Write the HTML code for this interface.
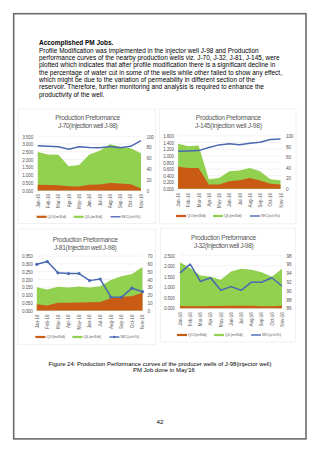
<!DOCTYPE html>
<html><head><meta charset="utf-8">
<style>
html,body{margin:0;padding:0;background:#fff;}
body{width:320px;height:453px;position:relative;overflow:hidden;font-family:"Liberation Sans", sans-serif;}
#pg{position:absolute;left:13px;top:13px;width:290px;height:423px;border:2px solid #707070;}
#txt{position:absolute;left:39px;top:39.4px;font-size:6.48px;line-height:7.35px;color:#000;white-space:nowrap;}
#txt b{font-weight:bold;}
svg{position:absolute;left:0;top:0;}
.ax{font-size:4.7px;letter-spacing:-0.2px;fill:#595959;font-family:"Liberation Sans", sans-serif;}
.tt{font-size:6.7px;letter-spacing:-0.33px;fill:#595959;font-family:"Liberation Sans", sans-serif;}
.tt2{letter-spacing:-0.45px;}
.xl{font-size:4.45px;fill:#595959;font-family:"Liberation Sans", sans-serif;}
.lg{font-size:4.2px;fill:#595959;font-family:"Liberation Sans", sans-serif;}
#cap{position:absolute;left:0;width:320px;top:360.7px;text-align:center;font-size:5.95px;line-height:6.6px;color:#000;}
#pn{position:absolute;left:0;width:320px;top:418px;text-align:center;font-size:6.2px;line-height:7px;color:#000;}
</style></head><body>
<div id="txt"><div class="ln"><b>Accomplished PM Jobs.</b></div>
<div class="ln">Profile Modification was implemented in the injector well J-98 and Production</div>
<div class="ln">performance curves of the nearby production wells viz. J-70, J-32, J-81, J-145, were</div>
<div class="ln">plotted which indicates that after profile modification there is a significant decline in</div>
<div class="ln">the percentage of water cut in some of the wells while other failed to show any effect,</div>
<div class="ln">which might be due to the variation of permeability in different section of the</div>
<div class="ln">reservoir. Therefore, further monitoring and analysis is required to enhance the</div>
<div class="ln">productivity of the well.</div>
</div>
<svg width="320" height="453" viewBox="0 0 320 453">
<rect x="13.7" y="13.7" width="292.3" height="425.2" fill="none" stroke="#6b6b6b" stroke-width="1.6"/>
<rect x="18.5" y="109" width="137.0" height="114.5" fill="#fff" stroke="#eeeeee" stroke-width="0.8"/>
<line x1="37.75" y1="136.3" x2="141" y2="136.3" stroke="#ebebeb" stroke-width="0.6"/>
<line x1="37.75" y1="144.03" x2="141" y2="144.03" stroke="#ebebeb" stroke-width="0.6"/>
<line x1="37.75" y1="151.76" x2="141" y2="151.76" stroke="#ebebeb" stroke-width="0.6"/>
<line x1="37.75" y1="159.49" x2="141" y2="159.49" stroke="#ebebeb" stroke-width="0.6"/>
<line x1="37.75" y1="167.21" x2="141" y2="167.21" stroke="#ebebeb" stroke-width="0.6"/>
<line x1="37.75" y1="174.94" x2="141" y2="174.94" stroke="#ebebeb" stroke-width="0.6"/>
<line x1="37.75" y1="182.67" x2="141" y2="182.67" stroke="#ebebeb" stroke-width="0.6"/>
<line x1="37.75" y1="190.4" x2="141" y2="190.4" stroke="#ebebeb" stroke-width="0.6"/>
<polygon points="37.75,190.4 37.75,152.07 48.08,154.54 58.4,154.85 68.72,166.29 79.05,165.05 89.38,154.38 99.7,150.68 110.03,144.34 120.35,146.66 130.68,148.2 141,153.3 141,190.4" fill="#92d050"/>
<polygon points="37.75,190.4 37.75,184.84 48.08,184.99 58.4,185.3 68.72,186.23 79.05,186.54 89.38,184.68 99.7,184.53 110.03,182.98 120.35,183.44 130.68,184.22 141,188.39 141,190.4" fill="#c95b14"/>
<polyline points="37.75,145.77 48.08,146.31 58.4,146.85 68.72,149.28 79.05,146.85 89.38,147.39 99.7,147.66 110.03,146.58 120.35,147.66 130.68,146.31 141,140.63" fill="none" stroke="#4a69b0" stroke-width="1.5" stroke-linejoin="round"/>
<text x="33.1" y="138.5" text-anchor="end" class="ax">3.500</text>
<text x="33.1" y="146.23" text-anchor="end" class="ax">3.000</text>
<text x="33.1" y="153.96" text-anchor="end" class="ax">2.500</text>
<text x="33.1" y="161.69" text-anchor="end" class="ax">2.000</text>
<text x="33.1" y="169.41" text-anchor="end" class="ax">1.500</text>
<text x="33.1" y="177.14" text-anchor="end" class="ax">1.000</text>
<text x="33.1" y="184.87" text-anchor="end" class="ax">0.500</text>
<text x="33.1" y="192.6" text-anchor="end" class="ax">0.000</text>
<text x="146.5" y="138.5" class="ax">100</text>
<text x="146.5" y="149.32" class="ax">80</text>
<text x="146.5" y="160.14" class="ax">60</text>
<text x="146.5" y="170.96" class="ax">40</text>
<text x="146.5" y="181.78" class="ax">20</text>
<text x="146.5" y="192.6" class="ax">0</text>
<text transform="translate(39.55,194) rotate(-90)" text-anchor="end" class="xl">Jan-16</text>
<text transform="translate(49.88,194) rotate(-90)" text-anchor="end" class="xl">Feb-16</text>
<text transform="translate(60.2,194) rotate(-90)" text-anchor="end" class="xl">Mar-16</text>
<text transform="translate(70.52,194) rotate(-90)" text-anchor="end" class="xl">Apr-16</text>
<text transform="translate(80.85,194) rotate(-90)" text-anchor="end" class="xl">May-16</text>
<text transform="translate(91.17,194) rotate(-90)" text-anchor="end" class="xl">Jun-16</text>
<text transform="translate(101.5,194) rotate(-90)" text-anchor="end" class="xl">Jul-16</text>
<text transform="translate(111.83,194) rotate(-90)" text-anchor="end" class="xl">Aug-16</text>
<text transform="translate(122.15,194) rotate(-90)" text-anchor="end" class="xl">Sep-16</text>
<text transform="translate(132.48,194) rotate(-90)" text-anchor="end" class="xl">Oct-16</text>
<text transform="translate(142.8,194) rotate(-90)" text-anchor="end" class="xl">Nov-16</text>
<text x="87.6" y="119.5" text-anchor="middle" class="tt">Production Preformance</text>
<text x="87.6" y="128.2" text-anchor="middle" class="tt" style="letter-spacing:-0.45px">J-70(Injection well J-98)</text>
<line x1="36.6" y1="216.8" x2="46.6" y2="216.8" stroke="#c95b14" stroke-width="2.2"/>
<text x="47.6" y="218.2" class="lg">QO(m3/d)</text>
<line x1="73.6" y1="216.8" x2="83.6" y2="216.8" stroke="#92d050" stroke-width="2.2"/>
<text x="84.6" y="218.2" class="lg">QL(m3/d)</text>
<line x1="110.6" y1="216.8" x2="120.6" y2="216.8" stroke="#4a69b0" stroke-width="1.4"/>
<text x="121.6" y="218.2" class="lg">WC(v/v%)</text>
<rect x="159.5" y="108.8" width="136.5" height="115.00000000000001" fill="#fff" stroke="#eeeeee" stroke-width="0.8"/>
<line x1="178.1" y1="135.9" x2="280.5" y2="135.9" stroke="#ebebeb" stroke-width="0.6"/>
<line x1="178.1" y1="142.51" x2="280.5" y2="142.51" stroke="#ebebeb" stroke-width="0.6"/>
<line x1="178.1" y1="149.12" x2="280.5" y2="149.12" stroke="#ebebeb" stroke-width="0.6"/>
<line x1="178.1" y1="155.74" x2="280.5" y2="155.74" stroke="#ebebeb" stroke-width="0.6"/>
<line x1="178.1" y1="162.35" x2="280.5" y2="162.35" stroke="#ebebeb" stroke-width="0.6"/>
<line x1="178.1" y1="168.96" x2="280.5" y2="168.96" stroke="#ebebeb" stroke-width="0.6"/>
<line x1="178.1" y1="175.58" x2="280.5" y2="175.58" stroke="#ebebeb" stroke-width="0.6"/>
<line x1="178.1" y1="182.19" x2="280.5" y2="182.19" stroke="#ebebeb" stroke-width="0.6"/>
<line x1="178.1" y1="188.8" x2="280.5" y2="188.8" stroke="#ebebeb" stroke-width="0.6"/>
<polygon points="178.1,188.8 178.1,143.84 188.34,146.15 198.58,145.49 208.82,179.21 219.06,177.89 229.3,171.28 239.54,170.62 249.78,167.97 260.02,171.28 270.26,179.21 280.5,180.2 280.5,188.8" fill="#92d050"/>
<polygon points="178.1,188.8 178.1,166.65 188.34,167.97 198.58,167.97 208.82,184.5 219.06,184.5 229.3,181.2 239.54,180.2 249.78,177.89 260.02,180.53 270.26,183.84 280.5,184.5 280.5,188.8" fill="#c95b14"/>
<polyline points="178.1,151.19 188.34,150.92 198.58,150.61 208.82,147.54 219.06,144.89 229.3,143.84 239.54,144.68 249.78,143.2 260.02,142.3 270.26,139.6 280.5,138.92" fill="none" stroke="#4a69b0" stroke-width="1.5" stroke-linejoin="round"/>
<text x="173.9" y="138.1" text-anchor="end" class="ax">1.600</text>
<text x="173.9" y="144.71" text-anchor="end" class="ax">1.400</text>
<text x="173.9" y="151.32" text-anchor="end" class="ax">1.200</text>
<text x="173.9" y="157.94" text-anchor="end" class="ax">1.000</text>
<text x="173.9" y="164.55" text-anchor="end" class="ax">0.800</text>
<text x="173.9" y="171.16" text-anchor="end" class="ax">0.600</text>
<text x="173.9" y="177.78" text-anchor="end" class="ax">0.400</text>
<text x="173.9" y="184.39" text-anchor="end" class="ax">0.200</text>
<text x="173.9" y="191" text-anchor="end" class="ax">0.000</text>
<text x="286" y="138.1" class="ax">100</text>
<text x="286" y="148.68" class="ax">80</text>
<text x="286" y="159.26" class="ax">60</text>
<text x="286" y="169.84" class="ax">40</text>
<text x="286" y="180.42" class="ax">20</text>
<text x="286" y="191" class="ax">0</text>
<text transform="translate(180.2,193.1) rotate(-90)" text-anchor="end" class="xl">Jan-16</text>
<text transform="translate(190.44,193.1) rotate(-90)" text-anchor="end" class="xl">Feb-16</text>
<text transform="translate(200.68,193.1) rotate(-90)" text-anchor="end" class="xl">Mar-16</text>
<text transform="translate(210.92,193.1) rotate(-90)" text-anchor="end" class="xl">Apr-16</text>
<text transform="translate(221.16,193.1) rotate(-90)" text-anchor="end" class="xl">May-16</text>
<text transform="translate(231.4,193.1) rotate(-90)" text-anchor="end" class="xl">Jun-16</text>
<text transform="translate(241.64,193.1) rotate(-90)" text-anchor="end" class="xl">Jul-16</text>
<text transform="translate(251.88,193.1) rotate(-90)" text-anchor="end" class="xl">Aug-16</text>
<text transform="translate(262.12,193.1) rotate(-90)" text-anchor="end" class="xl">Sep-16</text>
<text transform="translate(272.36,193.1) rotate(-90)" text-anchor="end" class="xl">Oct-16</text>
<text transform="translate(282.6,193.1) rotate(-90)" text-anchor="end" class="xl">Nov-16</text>
<text x="228.3" y="120.3" text-anchor="middle" class="tt">Production Preformance</text>
<text x="228.3" y="127.9" text-anchor="middle" class="tt" style="letter-spacing:-0.3px">J-145(Injection well J-98)</text>
<line x1="176" y1="216" x2="186" y2="216" stroke="#c95b14" stroke-width="2.2"/>
<text x="187" y="217.4" class="lg">QO(m3/d)</text>
<line x1="213" y1="216" x2="223" y2="216" stroke="#92d050" stroke-width="2.2"/>
<text x="224" y="217.4" class="lg">QL(m3/d)</text>
<line x1="250" y1="216" x2="260" y2="216" stroke="#4a69b0" stroke-width="1.4"/>
<text x="261" y="217.4" class="lg">WC(v/v%)</text>
<rect x="18" y="229" width="137.5" height="115.30000000000001" fill="#fff" stroke="#eeeeee" stroke-width="0.8"/>
<line x1="36.8" y1="256.1" x2="142.5" y2="256.1" stroke="#ebebeb" stroke-width="0.6"/>
<line x1="36.8" y1="263.89" x2="142.5" y2="263.89" stroke="#ebebeb" stroke-width="0.6"/>
<line x1="36.8" y1="271.67" x2="142.5" y2="271.67" stroke="#ebebeb" stroke-width="0.6"/>
<line x1="36.8" y1="279.46" x2="142.5" y2="279.46" stroke="#ebebeb" stroke-width="0.6"/>
<line x1="36.8" y1="287.24" x2="142.5" y2="287.24" stroke="#ebebeb" stroke-width="0.6"/>
<line x1="36.8" y1="295.03" x2="142.5" y2="295.03" stroke="#ebebeb" stroke-width="0.6"/>
<line x1="36.8" y1="302.81" x2="142.5" y2="302.81" stroke="#ebebeb" stroke-width="0.6"/>
<line x1="36.8" y1="310.6" x2="142.5" y2="310.6" stroke="#ebebeb" stroke-width="0.6"/>
<polygon points="36.8,310.6 36.8,287.24 47.37,289.58 57.94,286.78 68.51,287.4 79.08,286.46 89.65,287.4 100.22,286.15 110.79,279.92 121.36,276.34 131.93,274.01 142.5,267 142.5,310.6" fill="#92d050"/>
<polygon points="36.8,310.6 36.8,304.37 47.37,305.62 57.94,302.81 68.51,302.81 79.08,302.5 89.65,302.19 100.22,301.88 110.79,298.14 121.36,296.74 131.93,296.27 142.5,292.85 142.5,310.6" fill="#c95b14"/>
<polyline points="36.8,264.28 47.37,261.55 57.94,272.84 68.51,273.62 79.08,273.62 89.65,280.62 100.22,279.07 110.79,296.98 121.36,297.36 131.93,288.18 142.5,291.68" fill="none" stroke="#4a69b0" stroke-width="1.5" stroke-linejoin="round"/>
<circle cx="36.8" cy="264.28" r="1.6" fill="#4a69b0"/>
<circle cx="47.37" cy="261.55" r="1.6" fill="#4a69b0"/>
<circle cx="57.94" cy="272.84" r="1.6" fill="#4a69b0"/>
<circle cx="68.51" cy="273.62" r="1.6" fill="#4a69b0"/>
<circle cx="79.08" cy="273.62" r="1.6" fill="#4a69b0"/>
<circle cx="89.65" cy="280.62" r="1.6" fill="#4a69b0"/>
<circle cx="100.22" cy="279.07" r="1.6" fill="#4a69b0"/>
<circle cx="110.79" cy="296.98" r="1.6" fill="#4a69b0"/>
<circle cx="121.36" cy="297.36" r="1.6" fill="#4a69b0"/>
<circle cx="131.93" cy="288.18" r="1.6" fill="#4a69b0"/>
<circle cx="142.5" cy="291.68" r="1.6" fill="#4a69b0"/>
<text x="32.7" y="258.3" text-anchor="end" class="ax">0.350</text>
<text x="32.7" y="266.09" text-anchor="end" class="ax">0.300</text>
<text x="32.7" y="273.87" text-anchor="end" class="ax">0.250</text>
<text x="32.7" y="281.66" text-anchor="end" class="ax">0.200</text>
<text x="32.7" y="289.44" text-anchor="end" class="ax">0.150</text>
<text x="32.7" y="297.23" text-anchor="end" class="ax">0.100</text>
<text x="32.7" y="305.01" text-anchor="end" class="ax">0.050</text>
<text x="32.7" y="312.8" text-anchor="end" class="ax">0.000</text>
<text x="147.5" y="258.3" class="ax">70</text>
<text x="147.5" y="266.09" class="ax">60</text>
<text x="147.5" y="273.87" class="ax">50</text>
<text x="147.5" y="281.66" class="ax">40</text>
<text x="147.5" y="289.44" class="ax">30</text>
<text x="147.5" y="297.23" class="ax">20</text>
<text x="147.5" y="305.01" class="ax">10</text>
<text x="147.5" y="312.8" class="ax">0</text>
<text transform="translate(38.6,314.6) rotate(-90)" text-anchor="end" class="xl">Jan-16</text>
<text transform="translate(49.17,314.6) rotate(-90)" text-anchor="end" class="xl">Feb-16</text>
<text transform="translate(59.74,314.6) rotate(-90)" text-anchor="end" class="xl">Mar-16</text>
<text transform="translate(70.31,314.6) rotate(-90)" text-anchor="end" class="xl">Apr-16</text>
<text transform="translate(80.88,314.6) rotate(-90)" text-anchor="end" class="xl">May-16</text>
<text transform="translate(91.45,314.6) rotate(-90)" text-anchor="end" class="xl">Jun-16</text>
<text transform="translate(102.02,314.6) rotate(-90)" text-anchor="end" class="xl">Jul-16</text>
<text transform="translate(112.59,314.6) rotate(-90)" text-anchor="end" class="xl">Aug-16</text>
<text transform="translate(123.16,314.6) rotate(-90)" text-anchor="end" class="xl">Sep-16</text>
<text transform="translate(133.73,314.6) rotate(-90)" text-anchor="end" class="xl">Oct-16</text>
<text transform="translate(144.3,314.6) rotate(-90)" text-anchor="end" class="xl">Nov-16</text>
<text x="85.2" y="241.8" text-anchor="middle" class="tt">Production Preformance</text>
<text x="85.2" y="249.6" text-anchor="middle" class="tt" style="letter-spacing:-0.32px">J-81(Injection well J-98)</text>
<line x1="35.4" y1="337" x2="45.4" y2="337" stroke="#c95b14" stroke-width="2.2"/>
<text x="46.4" y="338.4" class="lg">QO(m3/d)</text>
<line x1="72.4" y1="337" x2="82.4" y2="337" stroke="#92d050" stroke-width="2.2"/>
<text x="83.4" y="338.4" class="lg">QL(m3/d)</text>
<line x1="109.4" y1="337" x2="119.4" y2="337" stroke="#4a69b0" stroke-width="1.4"/>
<circle cx="114.4" cy="337" r="1.2" fill="#4a69b0"/>
<text x="120.4" y="338.4" class="lg">WC(v/v%)</text>
<rect x="160.5" y="228.3" width="135.0" height="113.69999999999999" fill="#fff" stroke="#eeeeee" stroke-width="0.8"/>
<line x1="180" y1="255.3" x2="282" y2="255.3" stroke="#ebebeb" stroke-width="0.6"/>
<line x1="180" y1="265.88" x2="282" y2="265.88" stroke="#ebebeb" stroke-width="0.6"/>
<line x1="180" y1="276.46" x2="282" y2="276.46" stroke="#ebebeb" stroke-width="0.6"/>
<line x1="180" y1="287.04" x2="282" y2="287.04" stroke="#ebebeb" stroke-width="0.6"/>
<line x1="180" y1="297.62" x2="282" y2="297.62" stroke="#ebebeb" stroke-width="0.6"/>
<line x1="180" y1="308.2" x2="282" y2="308.2" stroke="#ebebeb" stroke-width="0.6"/>
<polygon points="180,308.2 180,262.28 190.2,268 200.4,275.4 210.6,276.67 220.8,279.63 231,271.59 241.2,268.84 251.4,269.69 261.6,272.23 271.8,276.67 282,268.84 282,308.2" fill="#92d050"/>
<polygon points="180,308.2 180,306.08 190.2,306.3 200.4,306.3 210.6,306.08 220.8,306.08 231,305.87 241.2,305.66 251.4,305.87 261.6,306.3 271.8,306.3 282,305.87 282,308.2" fill="#c95b14"/>
<polyline points="180,272.93 190.2,264.12 200.4,281.49 210.6,277.78 220.8,290.3 231,286.6 241.2,290.3 251.4,282.19 261.6,282.19 271.8,277.78 282,285.98" fill="none" stroke="#4a69b0" stroke-width="1.5" stroke-linejoin="round"/>
<text x="174.7" y="257.5" text-anchor="end" class="ax">2.500</text>
<text x="174.7" y="268.08" text-anchor="end" class="ax">2.000</text>
<text x="174.7" y="278.66" text-anchor="end" class="ax">1.500</text>
<text x="174.7" y="289.24" text-anchor="end" class="ax">1.000</text>
<text x="174.7" y="299.82" text-anchor="end" class="ax">0.500</text>
<text x="174.7" y="310.4" text-anchor="end" class="ax">0.000</text>
<text x="286.5" y="257.5" class="ax">98</text>
<text x="286.5" y="266.32" class="ax">96</text>
<text x="286.5" y="275.13" class="ax">94</text>
<text x="286.5" y="283.95" class="ax">92</text>
<text x="286.5" y="292.77" class="ax">90</text>
<text x="286.5" y="301.58" class="ax">88</text>
<text x="286.5" y="310.4" class="ax">86</text>
<text transform="translate(181.8,312.2) rotate(-90)" text-anchor="end" class="xl">Jan-16</text>
<text transform="translate(192,312.2) rotate(-90)" text-anchor="end" class="xl">Feb-16</text>
<text transform="translate(202.2,312.2) rotate(-90)" text-anchor="end" class="xl">Mar-16</text>
<text transform="translate(212.4,312.2) rotate(-90)" text-anchor="end" class="xl">Apr-16</text>
<text transform="translate(222.6,312.2) rotate(-90)" text-anchor="end" class="xl">May-16</text>
<text transform="translate(232.8,312.2) rotate(-90)" text-anchor="end" class="xl">Jun-16</text>
<text transform="translate(243,312.2) rotate(-90)" text-anchor="end" class="xl">Jul-16</text>
<text transform="translate(253.2,312.2) rotate(-90)" text-anchor="end" class="xl">Aug-16</text>
<text transform="translate(263.4,312.2) rotate(-90)" text-anchor="end" class="xl">Sep-16</text>
<text transform="translate(273.6,312.2) rotate(-90)" text-anchor="end" class="xl">Oct-16</text>
<text transform="translate(283.8,312.2) rotate(-90)" text-anchor="end" class="xl">Nov-16</text>
<text x="223.5" y="239.8" text-anchor="middle" class="tt">Production Preformance</text>
<text x="223.5" y="248.3" text-anchor="middle" class="tt" style="letter-spacing:-0.45px">J-32(Injection well J-98)</text>
<line x1="177" y1="335" x2="187" y2="335" stroke="#c95b14" stroke-width="2.2"/>
<text x="188" y="336.4" class="lg">QO(m3/d)</text>
<line x1="214" y1="335" x2="224" y2="335" stroke="#92d050" stroke-width="2.2"/>
<text x="225" y="336.4" class="lg">QL(m3/d)</text>
<line x1="251" y1="335" x2="261" y2="335" stroke="#4a69b0" stroke-width="1.4"/>
<text x="262" y="336.4" class="lg">WC(v/v%)</text>
</svg>
<div id="cap"><div>Figure 24: Production Performance curves of the producer wells of J-98(injector well)</div><div style="padding-left:8px">PM Job done in May'16</div></div>
<div id="pn">42</div>
</body></html>
